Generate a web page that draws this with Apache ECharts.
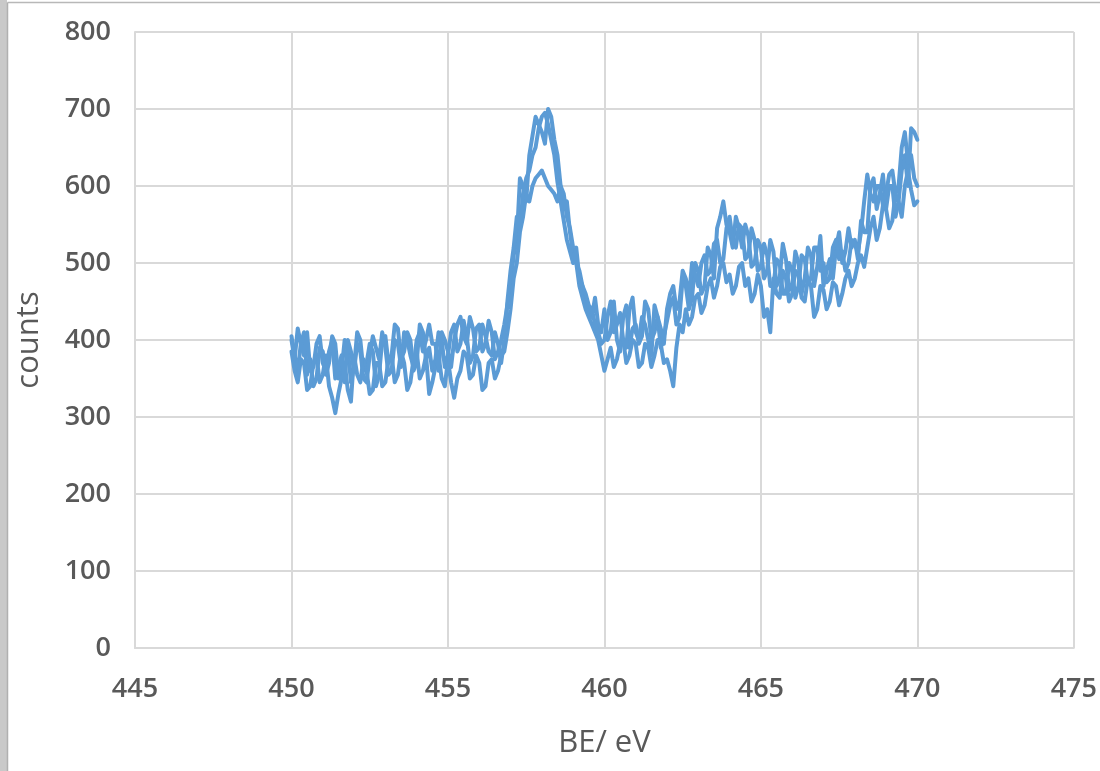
<!DOCTYPE html>
<html>
<head>
<meta charset="utf-8">
<script src="https://cdn.jsdelivr.net/npm/echarts@6/dist/echarts.min.js"></script>
<style>
html,body{margin:0;padding:0;background:#fff;}
#chart{width:1100px;height:771px;}
</style>
</head>
<body>
<div id="chart"></div>
<script>
// Binding energy grid: 450.0 .. 470.0 eV, step 0.1 (201 points)
const beStart = 450.0;
const beStep = 0.1;

const seriesA = [
405,380,360,395,410,355,375,340,350,390,
385,355,370,405,395,350,360,400,390,345,
365,410,400,360,370,395,385,340,355,400,
405,370,380,420,415,375,385,410,400,360,
370,420,410,375,390,360,375,410,400,365,
380,410,420,385,395,425,405,370,380,415,
420,385,395,425,410,375,385,400,420,445,
470,510,530,610,600,580,640,665,690,680,
670,655,700,690,660,640,600,590,560,545,
520,500,490,470,450,440,430,455,420,410,
440,400,410,450,400,385,430,445,390,415,
420,395,405,450,440,400,410,430,390,405,
425,445,455,420,430,480,470,440,455,500,
490,460,470,520,510,480,545,560,580,550,
540,520,560,545,520,550,535,495,500,530,
520,480,490,530,515,470,480,525,505,465,
470,515,500,460,480,520,510,470,495,535,
470,490,505,480,520,540,500,515,545,520,
530,505,555,540,540,600,610,570,590,615,
570,600,600,560,580,620,640,600,675,670,
660];

const seriesB = [
385,360,345,375,370,335,340,370,380,345,
355,380,340,325,305,330,350,370,335,320,
380,355,345,375,360,330,335,370,370,340,
345,375,380,345,355,385,370,335,345,375,
385,350,360,380,330,345,365,380,350,340,
375,345,325,350,360,385,380,350,355,380,
370,335,340,370,375,350,360,380,385,410,
440,480,500,540,560,590,580,600,610,615,
620,610,600,595,590,580,600,570,580,540,
510,500,470,455,440,430,420,410,400,380,
360,375,390,365,375,395,400,370,380,400,
395,365,370,395,390,365,380,400,395,370,
375,360,340,390,420,410,440,420,430,455,
460,435,445,470,480,455,470,495,500,475,
485,460,470,495,500,470,480,450,460,485,
470,430,440,410,480,460,455,490,480,450,
460,490,485,455,450,480,470,430,440,470,
465,440,450,475,470,445,460,480,490,470,
480,500,510,495,520,545,560,530,545,575,
570,545,555,590,580,560,600,620,595,575,
580];

const seriesC = [
400,375,415,395,380,410,360,365,395,405,
370,360,385,400,350,365,380,345,400,385,
360,395,385,350,345,380,405,390,375,410,
390,355,360,400,395,365,410,400,380,365,
400,410,385,400,420,395,395,360,410,400,
385,365,400,420,430,405,395,430,415,385,
390,420,405,385,380,410,395,370,400,450,
490,520,560,545,590,610,620,640,650,675,
690,695,680,660,640,605,580,555,530,515,
500,520,480,470,460,445,440,420,410,395,
400,430,450,410,420,435,400,390,440,455,
410,400,430,420,400,380,445,430,415,395,
440,460,470,440,450,490,480,455,500,485,
470,500,510,485,490,525,530,500,505,545,
560,530,520,550,545,505,510,545,530,490,
495,525,510,470,470,505,500,460,460,500,
490,455,470,510,505,475,480,520,520,490,
500,475,480,520,530,505,515,490,500,530,
525,515,540,580,615,590,580,600,600,575,
590,615,620,590,600,650,670,630,640,610,
600];

const xTicks = [445, 450, 455, 460, 465, 470, 475];
const yTicks = [0, 100, 200, 300, 400, 500, 600, 700, 800];

function toPairs(vals){
  return vals.map((v,i)=>[+(beStart + i*beStep).toFixed(1), v]);
}

const lineColor = '#5b9bd5';
const gridColor = '#d9d9d9';
const textColor = '#595959';
const font = '"Open Sans", "Liberation Sans", sans-serif';

const chart = echarts.init(document.getElementById('chart'), null, {renderer:'canvas'});
chart.setOption({
  animation:false,
  backgroundColor:'#ffffff',
  grid:{left:135, right:25, top:32, bottom:123},
  graphic:[
    {type:'rect', shape:{x:0,y:0,width:7,height:771}, style:{fill:'#c9c9c9'}, silent:true},
    {type:'line', shape:{x1:7.5,y1:2.5,x2:1100,y2:2.5}, style:{stroke:'#b8b8b8',lineWidth:1.5}, silent:true},
    {type:'line', shape:{x1:7.5,y1:2.5,x2:7.5,y2:771}, style:{stroke:'#b0b0b0',lineWidth:1.5}, silent:true}
  ],
  xAxis:{
    type:'value', min:xTicks[0], max:xTicks[xTicks.length-1], interval:5,
    name:'BE/ eV', nameLocation:'middle', nameGap:80,
    nameTextStyle:{color:textColor, fontSize:31, fontFamily:font},
    axisLine:{show:true, lineStyle:{color:gridColor, width:2}},
    axisTick:{show:false},
    splitLine:{show:true, lineStyle:{color:gridColor, width:2}},
    axisLabel:{color:textColor, fontSize:27, fontWeight:600, fontFamily:font, margin:28}
  },
  yAxis:{
    type:'value', min:yTicks[0], max:yTicks[yTicks.length-1], interval:100,
    name:'counts', nameLocation:'middle', nameGap:90, nameRotate:90,
    nameTextStyle:{color:textColor, fontSize:31, fontFamily:font},
    axisLine:{show:true, lineStyle:{color:gridColor, width:2}},
    axisTick:{show:false},
    splitLine:{show:true, lineStyle:{color:gridColor, width:2}},
    axisLabel:{color:textColor, fontSize:27, fontWeight:600, fontFamily:font, margin:24}
  },
  series:[seriesA, seriesB, seriesC].map((s,k)=>({
    type:'line', name:'scan '+(k+1), data:toPairs(s),
    showSymbol:false, symbol:'none',
    lineStyle:{color:lineColor, width:4, join:'round', cap:'round'},
    itemStyle:{color:lineColor}
  }))
});
</script>
</body>
</html>
